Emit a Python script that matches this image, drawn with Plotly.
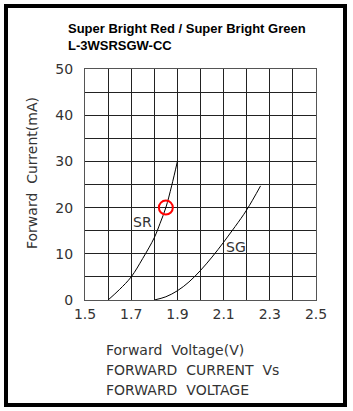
import plotly.graph_objects as go

# Data
sr_v = [1.60, 1.65, 1.70, 1.75, 1.80, 1.825, 1.85, 1.875, 1.90]
sr_i = [0.0, 2.3, 5.0, 9.0, 13.5, 16.6, 20.0, 24.7, 30.0]
sg_v = [1.80, 1.85, 1.90, 1.95, 2.00, 2.05, 2.10, 2.15, 2.20, 2.26]
sg_i = [0.0, 0.7, 2.0, 3.9, 6.4, 9.3, 12.5, 15.9, 19.5, 24.7]
marker_v = [1.85]
marker_i = [20]
x_ticks = [1.5, 1.7, 1.9, 2.1, 2.3, 2.5]
x_tick_text = ["1.5", "1.7", "1.9", "2.1", "2.3", "2.5"]
y_ticks = [0, 10, 20, 30, 40, 50]

W, H = 353, 411
L, R, T, B = 85, 316, 69, 300

def px(x):
    return (x - L) / (R - L)

def py(y):
    return (B - y) / (B - T)

tfont = dict(family="DejaVu Sans", size=14, color="#333333")

fig = go.Figure()
fig.add_trace(go.Scatter(x=sr_v, y=sr_i, mode="lines", line=dict(color="black", width=1, shape="spline", smoothing=1), showlegend=False))
fig.add_trace(go.Scatter(x=sg_v, y=sg_i, mode="lines", line=dict(color="black", width=1, shape="spline", smoothing=1), showlegend=False))
fig.add_trace(go.Scatter(x=marker_v, y=marker_i, mode="markers",
                         marker=dict(symbol="circle-open", size=14, color="red", line=dict(color="red", width=2)),
                         showlegend=False))

fig.update_layout(
    width=W, height=H,
    margin=dict(l=L, r=W - R, t=T, b=H - B),
    paper_bgcolor="white", plot_bgcolor="white",
    xaxis=dict(range=[1.5, 2.5], tickvals=x_ticks, ticktext=x_tick_text,
               showgrid=True, gridcolor="#222222", gridwidth=1, zeroline=False,
               showline=True, linecolor="#555555", linewidth=1, mirror=True,
               ticks="", tickfont=tfont, ticklabelstandoff=1),
    yaxis=dict(range=[0, 50], tickvals=y_ticks,
               showgrid=True, gridcolor="#222222", gridwidth=1, zeroline=False,
               showline=True, linecolor="#555555", linewidth=1, mirror=True,
               ticks="", tickfont=tfont, ticklabelstandoff=8),
)
# minor grid every 0.1 V / 5 mA
fig.update_xaxes(minor=dict(dtick=0.1, showgrid=True, gridcolor="#222222", gridwidth=1))
fig.update_yaxes(minor=dict(dtick=5, showgrid=True, gridcolor="#222222", gridwidth=1))

ann = []
ann.append(dict(x=px(66), y=py(37), xref="paper", yref="paper", xanchor="left", yanchor="middle", align="left",
                text="<b>Super Bright Red / Super Bright Green<br>L-3WSRSGW-CC</b>", showarrow=False,
                font=dict(family="Liberation Sans", size=13, color="black")))
ann.append(dict(x=px(32), y=py(173), xref="paper", yref="paper", xanchor="center", yanchor="middle",
                text="Forward  Current(mA)", textangle=-90, showarrow=False, font=tfont))
for i, line in enumerate(["Forward  Voltage(V)", "FORWARD  CURRENT  Vs", "FORWARD  VOLTAGE"]):
    ann.append(dict(x=px(104), y=py(350 + 20 * i), xref="paper", yref="paper", xanchor="left", yanchor="middle",
                    text=line, showarrow=False, font=tfont))
ann.append(dict(x=1.749, y=16.8, xref="x", yref="y", text="SR", showarrow=False, font=tfont))
ann.append(dict(x=2.155, y=11.4, xref="x", yref="y", text="SG", showarrow=False, font=tfont))
fig.update_layout(annotations=ann)

fig.add_shape(type="rect", xref="paper", yref="paper",
              x0=px(6), x1=px(345), y0=py(6), y1=py(405),
              line=dict(color="black", width=4), fillcolor="rgba(0,0,0,0)", layer="above")

fig.write_html("out.html")
